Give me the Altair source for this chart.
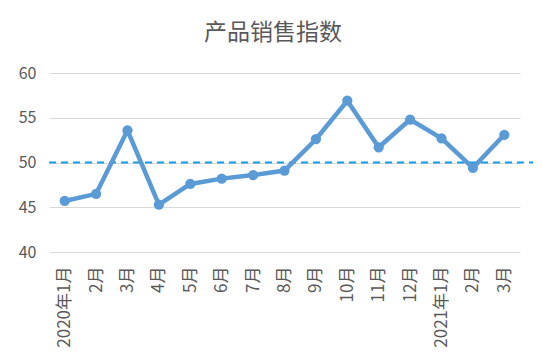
import altair as alt
import pandas as pd

labels = ["2020年1月", "2月", "3月", "4月", "5月", "6月", "7月", "8月", "9月",
          "10月", "11月", "12月", "2021年1月", "2月", "3月"]
values = [45.7, 46.5, 53.6, 45.3, 47.6, 48.2, 48.6, 49.1, 52.6, 56.9,
          51.7, 54.8, 52.7, 49.4, 53.1]
y_ticks = [40, 45, 50, 55, 60]
threshold = 50
title_text = "产品销售指数"

df = pd.DataFrame({"i": list(range(len(labels))), "v": values})
label_js = "[" + ",".join("'" + l + "'" for l in labels) + "]"

FONT = "Noto Sans CJK SC"
GRAY = "#595959"

x_enc = alt.X("i:O", title=None,
              axis=alt.Axis(labelExpr=label_js + "[datum.value]", labelAngle=270,
                            labelAlign="right", labelBaseline="middle",
                            labelPadding=14, ticks=False, domain=False,
                            labelFontSize=17, labelColor=GRAY, labelFont=FONT,
                            grid=False))
y_enc = alt.Y("v:Q", title=None,
              scale=alt.Scale(domain=[40, 60], nice=False, zero=False),
              axis=alt.Axis(values=y_ticks, ticks=False, domain=False,
                            labelPadding=13, labelFontSize=16, labelColor=GRAY,
                            labelFont=FONT, gridColor="#d9d9d9", gridWidth=1))

line = alt.Chart(df).mark_line(color="#5b9bd5", strokeWidth=4.5).encode(x=x_enc, y=y_enc)
pts = alt.Chart(df).mark_point(filled=True, size=105, opacity=1, color="#5b9bd5").encode(x="i:O", y="v:Q")

rule = alt.Chart(pd.DataFrame({"t": [threshold]})).mark_rule(
    color="#0f9ef0", strokeWidth=2, strokeDash=[7, 5]
).encode(y="t:Q", x=alt.value(0), x2=alt.value(484))

title = alt.Chart(pd.DataFrame({"t": [title_text]})).mark_text(
    font=FONT, fontSize=23, color=GRAY, baseline="middle", align="center"
).encode(text="t:N", x=alt.value(224), y=alt.value(-40))

chart = alt.layer(rule, line, pts, title).properties(
    width=471, height=179,
    background="white",
    autosize=alt.AutoSizeParams(type="none"),
    padding={"left": 41, "top": 65, "right": 17, "bottom": 104},
).configure_view(stroke=None)

chart.save("out.html", embed_options={"renderer": "svg", "actions": False})
